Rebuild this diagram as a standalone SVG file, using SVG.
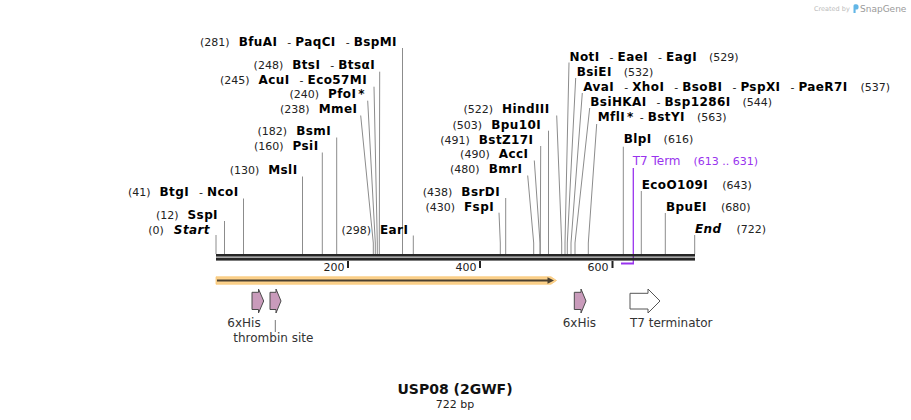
<svg xmlns="http://www.w3.org/2000/svg" width="911" height="420" viewBox="0 0 911 420">
<style>
text{font-family:"DejaVu Sans","Verdana",sans-serif;font-size:11px;fill:#222}
.e{font-weight:bold;font-size:12px;fill:#000;letter-spacing:0.4px}
.i{font-weight:bold;font-style:italic;font-size:12px;fill:#000;letter-spacing:0.4px}
.end{text-anchor:end}
.site{fill:none;stroke:#8c8c8c;stroke-width:1}
.pur{fill:#9933ee}
.feat{fill:#c99bbb;stroke:#4a4a4a;stroke-width:1}
.ft{font-size:12px;fill:#333}
.tick{font-size:11px;fill:#222;text-anchor:end}
</style>
<rect width="911" height="420" fill="#fff"/>
<g id="watermark">
<text x="814" y="10.5" style="font-size:6.5px;fill:#bbb">Created by</text>
<path d="M853.5,13 V5.8 Q853.5,4.3 855,4.3 H856.2 Q858.6,4.3 858.6,7 Q858.6,9.6 856.2,9.6 H855.6 V13 Z" fill="#62b6e6"/>
<text x="860" y="12" style="font-size:9px;fill:#9a9a9a">SnapGene</text>
</g>
<g id="connectors">
<path class="site" d="M216,235V254"/>
<path class="site" d="M224.5,221V254"/>
<path class="site" d="M243.5,198.5V254"/>
<path class="site" d="M302.5,176.5V254"/>
<path class="site" d="M322.3,152.5V254"/>
<path class="site" d="M336.7,137.5V254"/>
<path class="site" d="M360.7,115.5L373.3,243V254"/>
<path class="site" d="M367.7,100.7L375.3,243V254"/>
<path class="site" d="M374,86.7L377.3,243V254"/>
<path class="site" d="M379.7,71.7L379.3,243V254"/>
<path class="site" d="M402.5,48V254"/>
<path class="site" d="M413.3,235.5V254"/>
<path class="site" d="M499,212.7L500.3,243V254"/>
<path class="site" d="M505.7,198V254"/>
<path class="site" d="M527.7,175.5L533.7,243V254"/>
<path class="site" d="M534.3,160.5L540,243V254"/>
<path class="site" d="M540.7,146L540.3,243V254"/>
<path class="site" d="M548.5,130.7V254"/>
<path class="site" d="M556.7,115.5L561.7,243V254"/>
<path class="site" d="M569,62.5L565,243V254"/>
<path class="site" d="M575.7,78L567.3,243V254"/>
<path class="site" d="M582.3,93L571,243V254"/>
<path class="site" d="M589.7,108L575,243V254"/>
<path class="site" d="M596.7,124L588.3,243V254"/>
<path class="site" d="M623.3,146.7V254"/>
<path class="site" d="M641.3,191V254"/>
<path class="site" d="M665.3,213V254"/>
<path class="site" d="M694.7,235V254"/>
<path d="M633.3,168V264" stroke="#9933ee" stroke-width="1.3" fill="none"/>
<path d="M621,263.5H634" stroke="#9933ee" stroke-width="2" fill="none"/>
<path d="M275.3,320V332" stroke="#777" stroke-width="1" fill="none"/>
</g>
<g id="backbone">
<rect x="216" y="254" width="479" height="2.6" fill="#262626"/>
<rect x="216" y="257.6" width="479" height="3" fill="#262626"/>
<rect x="347" y="261" width="2" height="7" fill="#222"/>
<rect x="479" y="261" width="2" height="7" fill="#222"/>
<rect x="611.5" y="261" width="2" height="7" fill="#222"/>
<text class="tick" x="344.5" y="270.5">200</text>
<text class="tick" x="476.5" y="270.5">400</text>
<text class="tick" x="608.5" y="270.5">600</text>
</g>
<g id="sites-left">
<text class="end" x="210" y="233.5">(0)<tspan class="i" dx="10">Start</tspan></text>
<text class="end" x="218" y="218.5">(12)<tspan class="e" dx="9">SspI</tspan></text>
<text class="end" x="238.5" y="195.7">(41)<tspan class="e" dx="9">BtgI</tspan><tspan dx="10">-</tspan><tspan class="e" dx="4">NcoI</tspan></text>
<text class="end" x="297.5" y="174">(130)<tspan class="e" dx="9">MslI</tspan></text>
<text class="end" x="318.5" y="149.5">(160)<tspan class="e" dx="9">PsiI</tspan></text>
<text class="end" x="331" y="135">(182)<tspan class="e" dx="9">BsmI</tspan></text>
<text class="end" x="357.3" y="113.3">(238)<tspan class="e" dx="9">MmeI</tspan></text>
<text class="end" x="365" y="98.3">(240)<tspan class="e" dx="9">PfoI</tspan><tspan class="e" dx="2">*</tspan></text>
<text class="end" x="367" y="84">(245)<tspan class="e" dx="9">AcuI</tspan><tspan dx="10">-</tspan><tspan class="e" dx="4">Eco57MI</tspan></text>
<text class="end" x="375" y="68.5">(248)<tspan class="e" dx="9">BtsI</tspan><tspan dx="10">-</tspan><tspan class="e" dx="4">BtsαI</tspan></text>
<text class="end" x="397" y="46">(281)<tspan class="e" dx="9">BfuAI</tspan><tspan dx="10">-</tspan><tspan class="e" dx="4">PaqCI</tspan><tspan dx="10">-</tspan><tspan class="e" dx="4">BspMI</tspan></text>
<text class="end" x="408.3" y="233.5">(298)<tspan class="e" dx="9">EarI</tspan></text>
<text class="end" x="494" y="210.5">(430)<tspan class="e" dx="9">FspI</tspan></text>
<text class="end" x="500" y="195.5">(438)<tspan class="e" dx="9">BsrDI</tspan></text>
<text class="end" x="522.3" y="173.3">(480)<tspan class="e" dx="9">BmrI</tspan></text>
<text class="end" x="528.3" y="158.3">(490)<tspan class="e" dx="9">AccI</tspan></text>
<text class="end" x="533.5" y="143.5">(491)<tspan class="e" dx="9">BstZ17I</tspan></text>
<text class="end" x="541" y="128.5">(503)<tspan class="e" dx="9">Bpu10I</tspan></text>
<text class="end" x="549.5" y="113.3">(522)<tspan class="e" dx="9">HindIII</tspan></text>
</g>
<g id="sites-right">
<text x="569.5" y="60.7"><tspan class="e">NotI</tspan><tspan dx="10">-</tspan><tspan class="e" dx="4">EaeI</tspan><tspan dx="10">-</tspan><tspan class="e" dx="4">EagI</tspan><tspan dx="12">(529)</tspan></text>
<text x="576.7" y="75.7"><tspan class="e">BsiEI</tspan><tspan dx="12">(532)</tspan></text>
<text x="583.3" y="90.7"><tspan class="e">AvaI</tspan><tspan dx="10">-</tspan><tspan class="e" dx="4">XhoI</tspan><tspan dx="10">-</tspan><tspan class="e" dx="4">BsoBI</tspan><tspan dx="10">-</tspan><tspan class="e" dx="4">PspXI</tspan><tspan dx="10">-</tspan><tspan class="e" dx="4">PaeR7I</tspan><tspan dx="13">(537)</tspan></text>
<text x="590.3" y="105.7"><tspan class="e">BsiHKAI</tspan><tspan dx="10">-</tspan><tspan class="e" dx="4">Bsp1286I</tspan><tspan dx="12">(544)</tspan></text>
<text x="597.7" y="120.7"><tspan class="e">MflI</tspan><tspan class="e" dx="2">*</tspan><tspan dx="6">-</tspan><tspan class="e" dx="4">BstYI</tspan><tspan dx="12">(563)</tspan></text>
<text x="623.7" y="143.3"><tspan class="e">BlpI</tspan><tspan dx="12">(616)</tspan></text>
<text x="632.7" y="165" class="pur" style="font-size:12px">T7 Term<tspan dx="13" style="font-size:11px">(613 .. 631)</tspan></text>
<text x="641.7" y="189"><tspan class="e">EcoO109I</tspan><tspan dx="14">(643)</tspan></text>
<text x="666" y="211"><tspan class="e">BpuEI</tspan><tspan dx="14">(680)</tspan></text>
<text x="695" y="233.3"><tspan class="i">End</tspan><tspan dx="15">(722)</tspan></text>
</g>
<g id="orf">
<path d="M216,276.8H551L556.5,280.5L551,284.2H216Z" fill="#fdd28c" stroke="#f7c676" stroke-width="0.8"/>
<path d="M217,280.5H549" stroke="#4a4030" stroke-width="2" fill="none"/>
<path d="M547.5,277.3L554,280.5L547.5,283.7Z" fill="#4a4030"/>
</g>
<g id="his1">
<path class="feat" d="M252,292.3H258.5V289L263.7,301L258.5,313V309.5H252Z"/>
<text class="ft" x="227.3" y="326.5">6xHis</text>
</g>
<g id="thrombin">
<path class="feat" d="M270,292.3H276V289L281,301L276,313V309.5H270Z"/>
<text class="ft" x="233.3" y="342">thrombin site</text>
</g>
<g id="his2">
<path class="feat" d="M574.3,292.3H581V289L586,301L581,313V309.5H574.3Z"/>
<text class="ft" x="562.7" y="326.5">6xHis</text>
</g>
<g id="t7term">
<path d="M630,293.3H648V289L660,301L648,313V309H630Z" fill="#fff" stroke="#555" stroke-width="1"/>
<text class="ft" x="630" y="326.5">T7 terminator</text>
</g>
<g id="title">
<text x="455" y="393.7" text-anchor="middle" style="font-size:14px;font-weight:bold;fill:#111">USP08 (2GWF)</text>
<text x="455" y="407.5" text-anchor="middle" style="font-size:11px;fill:#222">722 bp</text>
</g>
</svg>
